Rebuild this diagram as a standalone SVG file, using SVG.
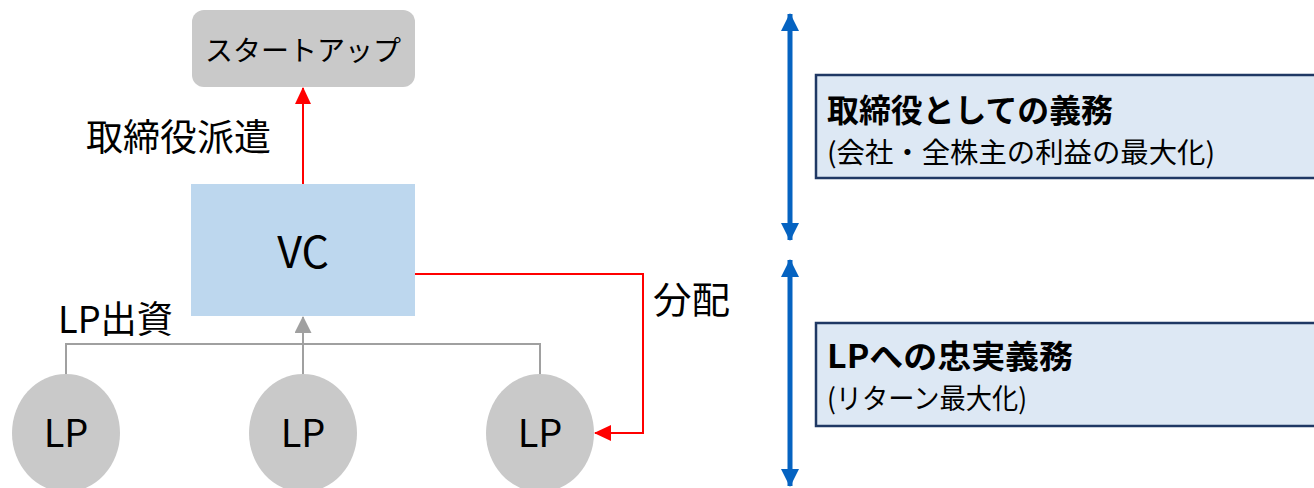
<svg xmlns="http://www.w3.org/2000/svg" width="1314" height="488" viewBox="0 0 1314 488">
<style>
text{font-family:"Noto Sans CJK JP","Noto Sans",sans-serif;fill:#000}
.lbl{font-size:37px}
.lp{font-size:38px;text-anchor:middle}
.circ{fill:#c9c9c9}
.red{stroke:#ff0000;stroke-width:2;fill:none}
.gray{stroke:#a0a0a0;stroke-width:2;fill:none}
.blue{stroke:#0563c1;stroke-width:5;fill:none}
.duty{fill:#dde8f4;stroke:#1f3864;stroke-width:2.5}
.t1{font-size:32px;font-weight:bold}
.t2{font-size:28px}
</style>
<defs>
<marker id="ahRed" markerUnits="userSpaceOnUse" markerWidth="17" markerHeight="16" refX="16" refY="8" orient="auto" viewBox="0 0 17 16">
<path d="M0,0 L17,8 L0,16 z" fill="#ff0000"/>
</marker>
<marker id="ahGray" markerUnits="userSpaceOnUse" markerWidth="17" markerHeight="17" refX="16" refY="8.5" orient="auto" viewBox="0 0 17 17">
<path d="M0,0 L17,8.5 L0,17 z" fill="#a0a0a0"/>
</marker>
<marker id="ahBlue" markerUnits="userSpaceOnUse" markerWidth="18" markerHeight="18" refX="17" refY="9" orient="auto-start-reverse" viewBox="0 0 18 18">
<path d="M0,0 L18,9 L0,18 z" fill="#0563c1"/>
</marker>
</defs>

<g id="connectors">
<path class="red" d="M303,184 L303,88" marker-end="url(#ahRed)"/>
<path class="red" d="M415,274 L643,274 L643,433 L595,433" marker-end="url(#ahRed)"/>
<path class="gray" d="M66,374 L66,344 L540,344 L540,374"/>
<path class="gray" d="M303,374 L303,317" marker-end="url(#ahGray)"/>
<path class="blue" d="M790,14 L790,240" marker-start="url(#ahBlue)" marker-end="url(#ahBlue)"/>
<path class="blue" d="M790,260 L790,486" marker-start="url(#ahBlue)" marker-end="url(#ahBlue)"/>
</g>

<g id="startup">
<rect x="192" y="10" width="223" height="77" rx="12" ry="12" fill="#c9c9c9"/>
<text x="303" y="61" font-size="28" text-anchor="middle">スタートアップ</text>
</g>

<g id="vc">
<rect x="191" y="184" width="224" height="132" fill="#bdd7ee"/>
<text x="303" y="268" font-size="43" text-anchor="middle">VC</text>
</g>

<g id="lp1">
<ellipse class="circ" cx="66" cy="433" rx="54" ry="59"/>
<text class="lp" x="66" y="447">LP</text>
</g>
<g id="lp2">
<ellipse class="circ" cx="303" cy="433" rx="54" ry="59"/>
<text class="lp" x="303" y="447">LP</text>
</g>
<g id="lp3">
<ellipse class="circ" cx="540" cy="433" rx="54" ry="59"/>
<text class="lp" x="540" y="447">LP</text>
</g>

<g id="labels">
<text class="lbl" x="86" y="151" textLength="185" lengthAdjust="spacingAndGlyphs">取締役派遣</text>
<text class="lbl" x="58" y="333" textLength="115" lengthAdjust="spacingAndGlyphs">LP出資</text>
<text class="lbl" x="653" y="314" textLength="77" lengthAdjust="spacingAndGlyphs">分配</text>
</g>

<g id="duty-director">
<rect class="duty" x="816" y="75" width="510" height="103"/>
<text class="t1" x="827" y="122" textLength="286" lengthAdjust="spacingAndGlyphs">取締役としての義務</text>
<text class="t2" x="827" y="163" textLength="388" lengthAdjust="spacingAndGlyphs">(会社・全株主の利益の最大化)</text>
</g>

<g id="duty-lp">
<rect class="duty" x="816" y="323" width="510" height="103"/>
<text class="t1" x="827" y="368" textLength="246" lengthAdjust="spacingAndGlyphs">LPへの忠実義務</text>
<text class="t2" x="827" y="409" textLength="200" lengthAdjust="spacingAndGlyphs">(リターン最大化)</text>
</g>
</svg>
